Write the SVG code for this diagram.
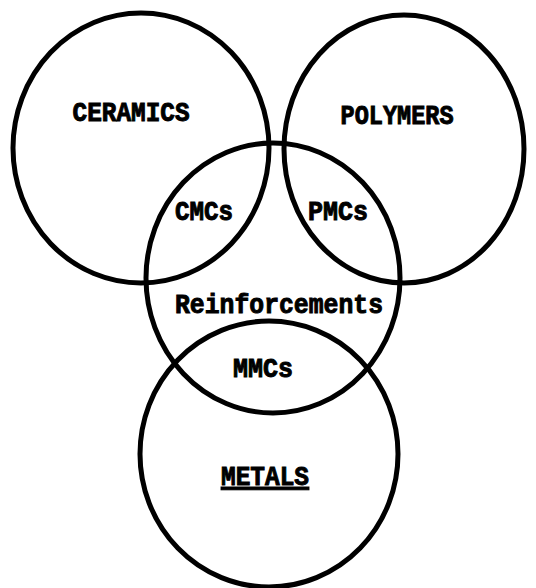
<svg xmlns="http://www.w3.org/2000/svg" width="536" height="588" viewBox="0 0 536 588">
<style>
.c{fill:none;stroke:#000;stroke-width:5}
.t{font-family:"Liberation Mono","Courier New",monospace;font-weight:bold;font-size:28px;fill:#000;stroke:#000;stroke-width:1;text-anchor:middle}
</style>
<rect width="536" height="588" fill="#fff"/>
<g id="ceramics"><ellipse class="c" cx="141" cy="148" rx="128" ry="135"/><text class="t" x="131" y="121" textLength="117" lengthAdjust="spacingAndGlyphs">CERAMICS</text></g>
<g id="polymers"><ellipse class="c" cx="404" cy="149" rx="120" ry="134"/><text class="t" x="397" y="124" textLength="113" lengthAdjust="spacingAndGlyphs">POLYMERS</text></g>
<g id="reinforcements"><ellipse class="c" cx="273" cy="278" rx="127" ry="135"/><text class="t" x="279" y="313" textLength="208" lengthAdjust="spacingAndGlyphs">Reinforcements</text></g>
<g id="metals"><ellipse class="c" cx="269" cy="454" rx="129" ry="133"/><text class="t" x="265" y="485" textLength="88" lengthAdjust="spacingAndGlyphs" text-decoration="underline">METALS</text></g>
<g id="cmcs"><text class="t" x="204" y="220" textLength="58" lengthAdjust="spacingAndGlyphs">CMCs</text></g>
<g id="pmcs"><text class="t" x="338" y="220" textLength="60" lengthAdjust="spacingAndGlyphs">PMCs</text></g>
<g id="mmcs"><text class="t" x="263" y="377" textLength="60" lengthAdjust="spacingAndGlyphs">MMCs</text></g>
<g id="connectors"></g>
</svg>
